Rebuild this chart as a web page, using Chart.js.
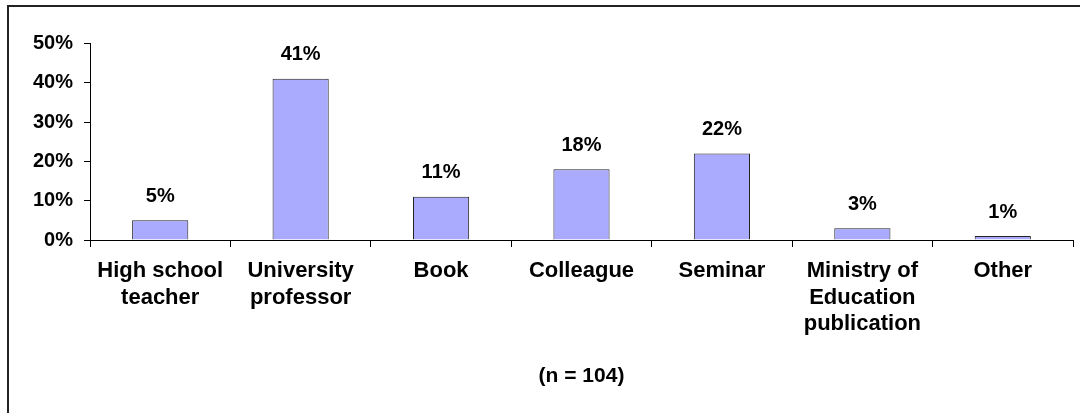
<!DOCTYPE html>
<html>
<head>
<meta charset="utf-8">
<script src="https://cdn.jsdelivr.net/npm/chart.js@4/dist/chart.umd.min.js"></script>
<style>
  html, body { margin: 0; padding: 0; background: #fff; }
  #wrap { position: relative; width: 1080px; height: 413px; overflow: hidden; }
  #frame { position: absolute; left: 7px; top: 5px; width: 1200px; height: 500px;
           border-left: 2px solid #222; border-top: 2px solid #222; }
  canvas { position: absolute; left: 0; top: 0; }
</style>
</head>
<body>
<div id="wrap">
  <div id="frame"></div>
  <canvas id="chart" width="1080" height="413"></canvas>
</div>
<script>
'use strict';

const CATEGORIES = [
  ['High school', 'teacher'],
  ['University', 'professor'],
  ['Book'],
  ['Colleague'],
  ['Seminar'],
  ['Ministry of', 'Education', 'publication'],
  ['Other'],
];
const PERCENTS = [5, 41, 11, 18, 22, 3, 1];
const Y_TICKS = [0, 10, 20, 30, 40, 50];
const N_LABEL = '(n = 104)';

const FONT = '"Liberation Sans", Arial, sans-serif';

/* ── value labels above bars + n label ── */
const labelPlugin = {
  id: 'labels',
  afterDatasetsDraw(chart) {
    const ctx = chart.ctx;
    const meta = chart.getDatasetMeta(0);
    ctx.save();
    ctx.fillStyle = '#000';
    ctx.font = `bold 20px ${FONT}`;
    ctx.textAlign = 'center';
    ctx.textBaseline = 'alphabetic';
    meta.data.forEach((bar, i) => {
      ctx.fillText(PERCENTS[i] + '%', bar.x, bar.y - 18.5);
    });
    const area = chart.chartArea;
    ctx.font = `bold 21px ${FONT}`;
    ctx.textBaseline = 'middle';
    ctx.fillText(N_LABEL, (area.left + area.right) / 2, 376);
    ctx.restore();
  },
};

new Chart(document.getElementById('chart'), {
  type: 'bar',
  data: {
    labels: CATEGORIES,
    datasets: [{
      data: PERCENTS,
      backgroundColor: '#aaaaff',
      borderColor: '#222',
      borderWidth: 1,
      barPercentage: 0.4,
      categoryPercentage: 1,
    }],
  },
  options: {
    responsive: false,
    animation: false,
    layout: { padding: { top: 43.5, right: 7, left: 0, bottom: 0 } },
    plugins: { legend: { display: false }, tooltip: { enabled: false } },
    scales: {
      x: {
        afterFit: s => { s.height = 173; },
        grid: { display: true, drawOnChartArea: false, offset: true, tickLength: 7, color: '#000' },
        border: { color: '#000', width: 1 },
        ticks: { color: '#000', padding: 11, maxRotation: 0, autoSkip: false,
                 font: { family: FONT, size: 22, weight: 'bold', lineHeight: 1.2 } },
      },
      y: {
        min: 0, max: 50,
        afterFit: s => { s.width = 90; },
        afterBuildTicks: s => { s.ticks = Y_TICKS.map(v => ({ value: v })); },
        grid: { display: true, drawOnChartArea: false, tickLength: 6, color: '#000' },
        border: { color: '#000', width: 1 },
        ticks: { color: '#000', padding: 11, callback: v => v + '%',
                 font: { family: FONT, size: 20, weight: 'bold' } },
      },
    },
  },
  plugins: [labelPlugin],
});
</script>
</body>
</html>
